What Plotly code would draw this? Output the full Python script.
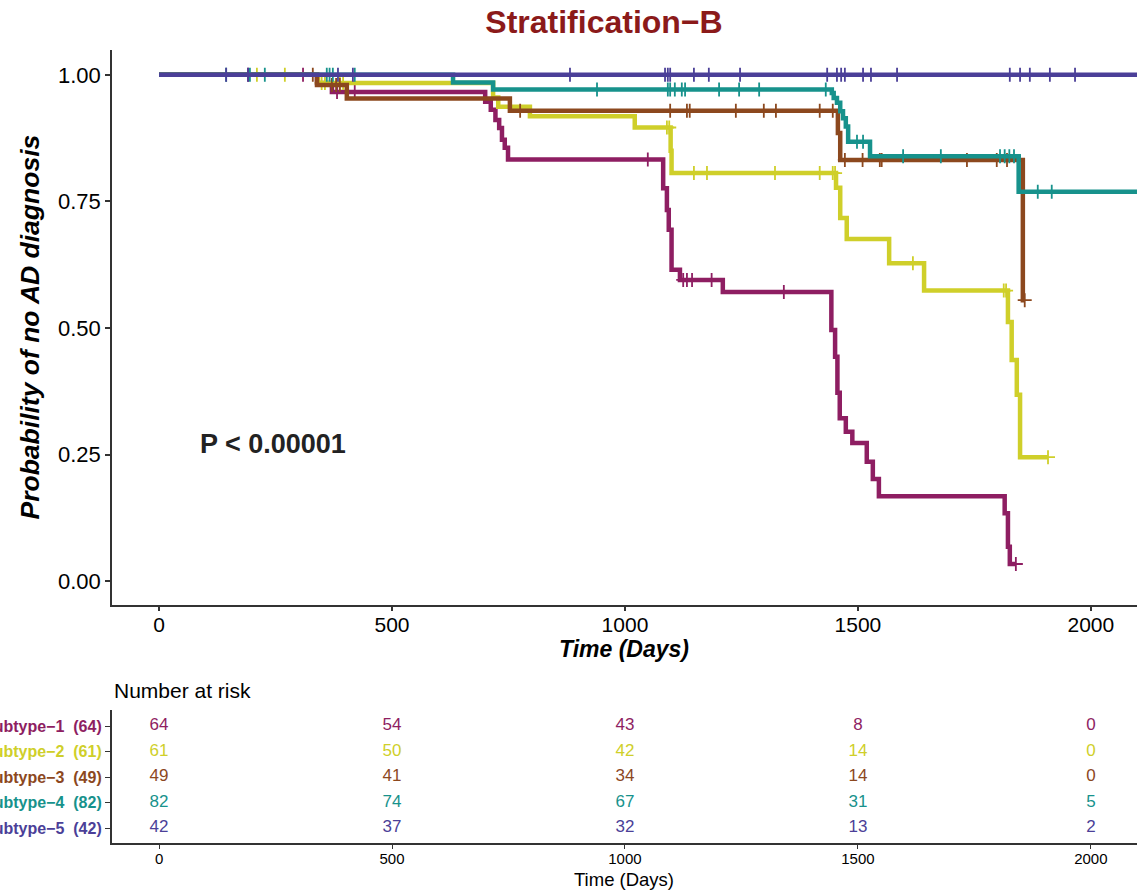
import plotly.graph_objects as go

# ---------------- data ----------------
group_names = ["Subtype−1", "Subtype−2", "Subtype−3", "Subtype−4", "Subtype−5"]
group_n = [64, 61, 49, 82, 42]
group_colors = ["#8E1E62", "#CFCF2A", "#8C481E", "#17928C", "#4B3F98"]

# step times (days) and survival right after each step
s1_times = [339, 371, 700, 712, 722, 730, 736, 742, 749, 1082, 1090, 1094, 1100, 1118, 1210,
            1443, 1451, 1456, 1461, 1474, 1488, 1519, 1532, 1545, 1815, 1822, 1826]
s1_surv = [0.984, 0.966, 0.947, 0.931, 0.911, 0.895, 0.872, 0.856, 0.833, 0.776, 0.733, 0.694, 0.615, 0.595, 0.571,
           0.496, 0.443, 0.372, 0.322, 0.295, 0.273, 0.236, 0.202, 0.168, 0.134, 0.068, 0.034]
s1_end = 1839
s1_censor = [191, 309, 382, 420, 1049, 1125, 1133, 1144, 1186, 1341, 1839]

s2_times = [341, 717, 728, 796, 1021, 1098, 1100, 1453, 1462, 1476, 1567, 1642, 1822, 1830, 1841, 1848]
s2_surv = [0.984, 0.955, 0.937, 0.918, 0.896, 0.85, 0.806, 0.777, 0.717, 0.676, 0.628, 0.574, 0.512, 0.437, 0.368, 0.245]
s2_end = 1908
s2_censor = [210, 270, 349, 356, 388, 395, 1090, 1095, 1148, 1176, 1322, 1418, 1446, 1451, 1618, 1813, 1818, 1908]

s3_times = [339, 403, 753, 1457, 1462, 1854]
s3_surv = [0.980, 0.953, 0.929, 0.885, 0.832, 0.555]
s3_end = 1858
s3_censor = [330, 371, 380, 388, 775, 1097, 1133, 1139, 1238, 1298, 1324, 1418, 1446,
             1472, 1510, 1547, 1551, 1734, 1798, 1820, 1858]

s4_times = [631, 717, 1444, 1448, 1455, 1462, 1468, 1474, 1479, 1526, 1845]
s4_surv = [0.985, 0.971, 0.964, 0.954, 0.945, 0.928, 0.914, 0.898, 0.868, 0.839, 0.769]
s4_end = 2150
s4_censor = [144, 195, 227, 360, 366, 373, 420, 940, 1092, 1097, 1107, 1122, 1129, 1202, 1245, 1288, 1431,
             1498, 1511, 1597, 1678, 1805, 1815, 1825, 1835, 1886, 1916]

s5_times = []
s5_surv = []
s5_end = 2150
s5_censor = [144, 191, 384, 416, 882, 1086, 1092, 1097, 1148, 1180, 1247, 1434, 1455, 1464, 1472,
             1511, 1528, 1584, 1826, 1848, 1869, 1912, 1966]

risk_times = [0, 500, 1000, 1500, 2000]
risk_s1 = [64, 54, 43, 8, 0]
risk_s2 = [61, 50, 42, 14, 0]
risk_s3 = [49, 41, 34, 14, 0]
risk_s4 = [82, 74, 67, 31, 5]
risk_s5 = [42, 37, 32, 13, 2]

x_ticks = [0, 500, 1000, 1500, 2000]
y_ticks = [0.0, 0.25, 0.5, 0.75, 1.0]
y_ticktext = ["0.00", "0.25", "0.50", "0.75", "1.00"]

groups = [
    (s1_times, s1_surv, s1_end, s1_censor, risk_s1),
    (s2_times, s2_surv, s2_end, s2_censor, risk_s2),
    (s3_times, s3_surv, s3_end, s3_censor, risk_s3),
    (s4_times, s4_surv, s4_end, s4_censor, risk_s4),
    (s5_times, s5_surv, s5_end, s5_censor, risk_s5),
]

FONT = "Liberation Sans, Arial, sans-serif"


def surv_at(t, times, surv):
    s = 1.0
    for ti, si in zip(times, surv):
        if ti <= t:
            s = si
        else:
            break
    return s


fig = go.Figure()

for i, (times, surv, end, cens, risk) in enumerate(groups):
    col = group_colors[i]
    xs = [0] + times + [end]
    ys = [1.0] + surv + [surv[-1] if surv else 1.0]
    fig.add_trace(go.Scatter(x=xs, y=ys, mode="lines", line=dict(color=col, width=4.5, shape="hv"),
                             showlegend=False, hoverinfo="skip", xaxis="x", yaxis="y"))
    cy = [surv_at(t, times, surv) for t in cens]
    fig.add_trace(go.Scatter(x=cens, y=cy, mode="markers",
                             marker=dict(symbol="cross-thin", size=10, line=dict(color=col, width=1.8)),
                             showlegend=False, hoverinfo="skip", xaxis="x", yaxis="y"))

# risk table
nrows = len(group_names)
for i, (times, surv, end, cens, risk) in enumerate(groups):
    row = nrows - i
    fig.add_trace(go.Scatter(x=risk_times, y=[row] * len(risk_times), mode="text",
                             text=[str(v) for v in risk],
                             textfont=dict(family=FONT, size=17, color=group_colors[i]),
                             textposition="middle center", showlegend=False, hoverinfo="skip",
                             xaxis="x2", yaxis="y2"))

W, H = 1144, 894
ml, mr, mt, mb = 112, 7, 50, 51
ph = H - mt - mb
pw = W - ml - mr
main_bottom = (H - mb - 605) / ph
risk_top = (H - mb - 710) / ph

xr = [-101, 2099]

annotations = []
# row labels
for i, name in enumerate(group_names):
    annotations.append(dict(
        text=f"<b>{name}\u00a0 ({group_n[i]})</b>", x=(104 - ml) / pw, xref="paper",
        y=nrows - i, yref="y2", xanchor="right", yanchor="middle", showarrow=False,
        font=dict(family=FONT, size=16, color=group_colors[i])))

annotations += [
    dict(text="Number at risk", x=0, xref="paper", y=(H - mb - 690) / ph, yref="paper",
         xanchor="left", yanchor="middle", showarrow=False, font=dict(family=FONT, size=21, color="black")),
    dict(text="<b><i>Time (Days)</i></b>", x=0.4995, xref="paper", y=(H - mb - 649) / ph, yref="paper",
         xanchor="center", yanchor="middle", showarrow=False, font=dict(family=FONT, size=23, color="black")),
    dict(text="Time (Days)", x=0.4995, xref="paper", y=(H - mb - 879) / ph, yref="paper",
         xanchor="center", yanchor="middle", showarrow=False, font=dict(family=FONT, size=18.5, color="black")),
    dict(text="<b><i>Probability of no AD diagnosis</i></b>", x=(29 - ml) / pw, xref="paper",
         y=(H - mb - 327.5) / ph, yref="paper", textangle=-90,
         xanchor="center", yanchor="middle", showarrow=False, font=dict(family=FONT, size=26.5, color="black")),
    dict(text="<b>P < 0.00001</b>", x=245, xref="x", y=0.270, yref="y",
         xanchor="center", yanchor="middle", showarrow=False, font=dict(family=FONT, size=27, color="#222222")),
]

fig.update_layout(
    width=W, height=H,
    margin=dict(l=ml, r=mr, t=mt, b=mb, autoexpand=False),
    paper_bgcolor="white", plot_bgcolor="white",
    font=dict(family=FONT, color="black"),
    title=dict(text="<b>Stratification−B</b>", x=604 / W, xref="container", xanchor="center",
               y=1 - 21.7 / H, yanchor="middle", font=dict(family=FONT, size=32, color="#8B1A1A")),
    showlegend=False,
    xaxis=dict(domain=[0, 1], range=xr, tickvals=x_ticks, ticks="outside", ticklen=4, tickwidth=1.5,
               tickcolor="#333333", showline=True, linecolor="#333333", linewidth=1.5, showgrid=False,
               zeroline=False, tickfont=dict(family=FONT, size=21, color="black"), anchor="y",
               ticklabelstandoff=-4),
    yaxis=dict(domain=[main_bottom, 1], range=[-0.047, 1.049], tickvals=y_ticks, ticktext=y_ticktext,
               ticks="outside", ticklen=5, tickwidth=1.5, tickcolor="#333333", showline=True,
               linecolor="#333333", linewidth=1.5, showgrid=False, zeroline=False,
               tickfont=dict(family=FONT, size=22, color="black"), anchor="x"),
    xaxis2=dict(domain=[0, 1], range=xr, tickvals=x_ticks, ticks="outside", ticklen=4, tickwidth=1.2,
                tickcolor="#333333", showline=True, linecolor="#333333", linewidth=1.5, showgrid=False,
                zeroline=False, tickfont=dict(family=FONT, size=15, color="black"), anchor="y2",
                ticklabelstandoff=-3),
    yaxis2=dict(domain=[0, risk_top], range=[0.412, 5.63], tickvals=[1, 2, 3, 4, 5], showticklabels=False,
                ticks="outside", ticklen=5, tickwidth=1.2, tickcolor="#333333", showline=True,
                linecolor="#333333", linewidth=1.5, showgrid=False, zeroline=False, anchor="x2"),
    annotations=annotations,
)

fig.write_html("out.html", config={"displayModeBar": False},
               post_script="document.body.style.margin='0';document.body.style.overflow='hidden';")
